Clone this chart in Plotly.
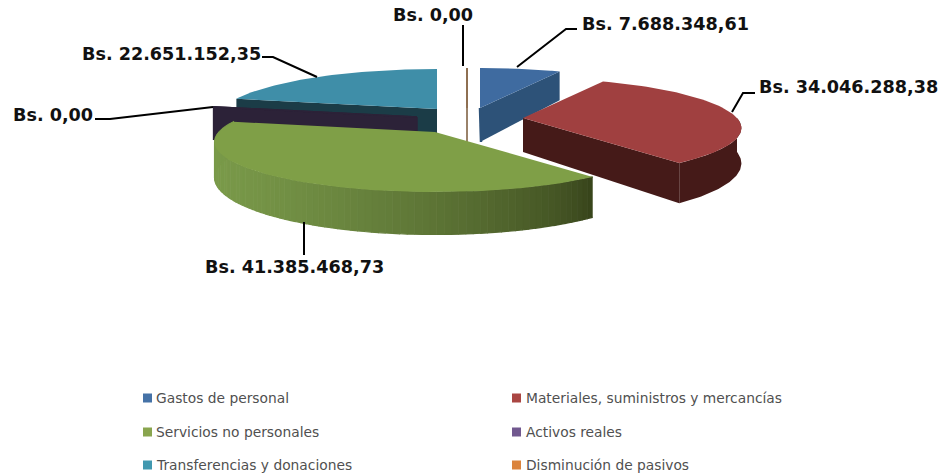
import math
import plotly.graph_objects as go

# ---- data ----
categories = ["Gastos de personal", "Materiales, suministros y mercancías",
              "Servicios no personales", "Activos reales",
              "Transferencias y donaciones", "Disminución de pasivos"]
values = [7688348.61, 34046288.38, 41385468.73, 0.0, 22651152.35, 0.0]

# ---- styling / layout of the drawing ----
top_colors = ["#3f6ba0", "#a04040", "#7f9f47", "#2c2238", "#3f8ea8", "#8a6a4a"]
legend_colors = ["#4572a7", "#aa4643", "#89a54e", "#71588f", "#4198af", "#db843d"]
wall_colors = ["#2d5278", "#451a18", "#36421a", "#2c2238", "#1b3c47", "#7a5a3a"]
apex_x = [480, 523, 435, 417, 437, 467]
apex_y = [108, 118, 132, 117, 109, 108]
radius_x = [213, 214, 216, 218, 215, 218]
end_wall = [True, True, False, False, False, False]
start_wall = [False, False, False, True, True, True]
edge_line = [True, False, False, False, False, False]
arc_wall_from = [None, 90, None, None, None, None]
draw_order = [4, 3, 5, 0, 1, 2]
RY, PERSP, DEPTH = 48, 0.2, 34
legend_x = [147.5, 516.5, 147.5, 516.5, 147.5, 516.5]
legend_y = [398, 398, 432, 432, 465, 465]
legend_text_x = [155, 525, 155, 525, 155, 525]
label_x = [665, 848, 294, 53, 171, 433]
label_y = [24, 87, 267, 115, 54, 15]
leader_x = [[517, 566, 577], [732, 743, 755], [304, 304], [213, 110, 95], [317, 273, 262], [463, 463]]
leader_y = [[67, 29, 29], [112, 93, 93], [222, 255], [107, 119, 119], [77, 57, 57], [66, 25]]


def bs(v):
    s = f"{v:,.2f}".replace(",", "#").replace(".", ",").replace("#", ".")
    return "Bs. " + s


def pers(th):
    return 1 / (1 + PERSP * math.cos(th))


def proj(i, th):
    p = pers(th)
    return apex_x[i] + radius_x[i] * math.sin(th) * p, apex_y[i] - RY * math.cos(th) * p


def low(i, th):
    x, y = proj(i, th)
    return x, y + DEPTH * pers(th)


def poly(xs, ys, color, line=0):
    return go.Scatter(x=xs, y=ys, mode="lines", fill="toself", fillcolor=color,
                      line=dict(color=color, width=line), hoverinfo="skip", showlegend=False)


def arc(i, t0, t1, n=60, f=proj):
    return [f(i, t0 + (t1 - t0) * k / n) for k in range(n + 1)]


def mix(c0, c1, t):
    a = [int(c0[j:j + 2], 16) for j in (1, 3, 5)]
    b = [int(c1[j:j + 2], 16) for j in (1, 3, 5)]
    return "rgb(%d,%d,%d)" % tuple(a[j] + (b[j] - a[j]) * t for j in range(3))


total = sum(values)
starts, cum = [], 0.0
for v in values:
    starts.append(cum / total * 2 * math.pi)
    cum += v
ends = [s + v / total * 2 * math.pi for s, v in zip(starts, values)]

fig = go.Figure()
for i in draw_order:
    t0, t1 = starts[i], ends[i]
    zero = values[i] == 0
    lw = 1.5 if zero else 0
    ax, ay = apex_x[i], apex_y[i]
    if edge_line[i]:
        fig.add_trace(go.Scatter(x=[ax, ax + 1], y=[ay, ay + DEPTH], mode="lines",
                                 line=dict(color=wall_colors[i], width=2.5),
                                 hoverinfo="skip", showlegend=False))
    for flag, th in ((start_wall[i], t0), (end_wall[i], t1)):
        if flag:
            x, y = proj(i, th)
            lx, ly = low(i, th)
            fig.add_trace(poly([ax, x, lx, ax, ax], [ay, y, ly, ay + DEPTH, ay], wall_colors[i], lw))
    if arc_wall_from[i] is not None:
        pts = arc(i, math.radians(arc_wall_from[i]), t1) + arc(i, t1, math.radians(arc_wall_from[i]), f=low)
        fig.add_trace(poly([p[0] for p in pts], [p[1] for p in pts], wall_colors[i]))
    if categories[i] == "Servicios no personales":
        n = 90
        a0, a1 = t0, t1
        x_right = proj(i, a0)[0]
        x_left = proj(i, math.radians(270))[0]
        for k in range(n):
            s0 = a0 + (a1 - a0) * k / n
            s1 = a0 + (a1 - a0) * (k + 1) / n
            pts = [proj(i, s0), proj(i, s1), low(i, s1), low(i, s0)]
            t = min(1.0, (x_right - (pts[0][0] + pts[1][0]) / 2) / (x_right - x_left))
            c = mix(wall_colors[i], "#7a9a4a", t ** 0.65)
            fig.add_trace(poly([p[0] for p in pts], [p[1] for p in pts], c, 1.2))
    pts = [(ax, ay)] + arc(i, t0, t1)
    fig.add_trace(poly([p[0] for p in pts] + [ax], [p[1] for p in pts] + [ay], top_colors[i], lw))

for i in range(len(categories)):
    fig.add_trace(go.Scatter(x=leader_x[i], y=leader_y[i], mode="lines",
                             line=dict(color="black", width=2), hoverinfo="skip", showlegend=False))
    fig.add_annotation(x=label_x[i], y=label_y[i], text="<b>" + bs(values[i]) + "</b>", showarrow=False,
                       font=dict(family="DejaVu Sans", size=17.6, color="#111111"))
    fig.add_trace(go.Scatter(x=[legend_x[i]], y=[legend_y[i]], mode="markers", name=categories[i],
                             marker=dict(symbol="square", size=9, color=legend_colors[i]),
                             showlegend=False))
    fig.add_annotation(x=legend_text_x[i], y=legend_y[i], text=categories[i], showarrow=False, xanchor="left",
                       xshift=-1, font=dict(family="DejaVu Sans", size=13.8, color="#505050"))

fig.update_layout(width=941, height=475, margin=dict(l=0, r=0, t=0, b=0),
                  paper_bgcolor="white", plot_bgcolor="white", showlegend=False,
                  xaxis=dict(range=[0, 941], visible=False, fixedrange=True),
                  yaxis=dict(range=[475, 0], visible=False, fixedrange=True))
fig.write_html("out.html", config={"displayModeBar": False},
               post_script="document.body.style.margin='0';document.body.style.overflow='hidden';")
